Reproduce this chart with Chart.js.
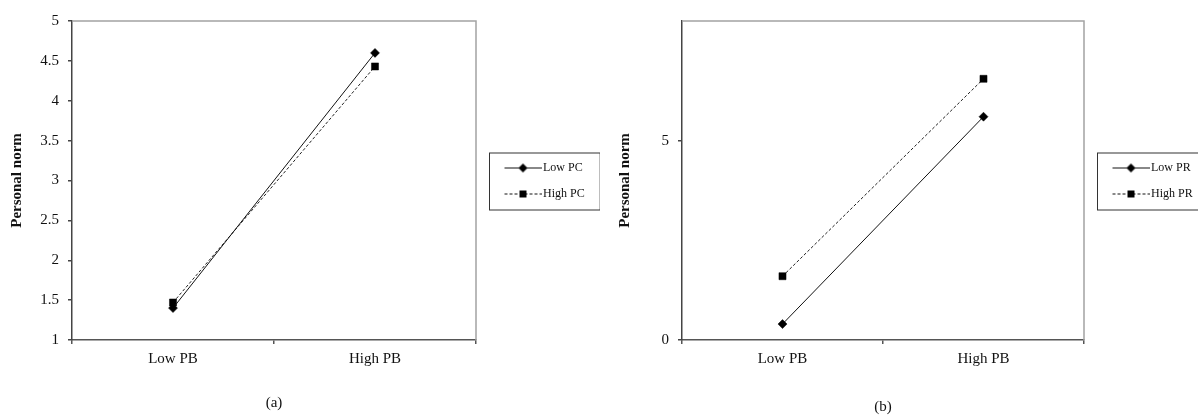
<!DOCTYPE html>
<html>
<head>
<meta charset="utf-8">
<script src="https://cdn.jsdelivr.net/npm/chart.js@4"></script>
<style>
  body { margin: 0; background: #fff; }
  #wrapA { position: absolute; left: 0; top: 0; }
  #wrapB { position: absolute; left: 600px; top: 0; }
</style>
</head>
<body>
<div id="wrapA"><canvas id="chartA" width="600" height="416"></canvas></div>
<div id="wrapB"><canvas id="chartB" width="598" height="416"></canvas></div>
<script>
// データ
const categories = ['Low PB', 'High PB'];
const lowPC = [1.40, 4.60];
const highPC = [1.47, 4.43];
const lowPR = [0.40, 5.60];
const highPR = [1.60, 6.55];

Chart.defaults.font.family = '"Liberation Serif", "Times New Roman", serif';
Chart.defaults.color = '#111';

// 凡例の記号（線＋マーカー）を小さいキャンバスに描く
function legendSymbol(dashed, marker) {
    const c = document.createElement('canvas');
    c.width = 56;
    c.height = 12;
    const g = c.getContext('2d');
    g.strokeStyle = '#111';
    g.lineWidth = 1;
    if (dashed) g.setLineDash([3, 2]);
    g.beginPath();
    g.moveTo(19, 6.5);
    g.lineTo(56, 6.5);
    g.stroke();
    g.fillStyle = '#000';
    if (marker === 'diamond') {
        g.beginPath();
        g.moveTo(37.5, 2);
        g.lineTo(42, 6.5);
        g.lineTo(37.5, 11);
        g.lineTo(33, 6.5);
        g.closePath();
        g.fill();
    } else {
        g.fillRect(34, 3, 7, 7);
    }
    return c;
}
const symbols = [legendSymbol(false, 'diamond'), legendSymbol(true, 'square')];

// 凡例の幅を固定する
const legendWidth = {
    id: 'legendWidth',
    afterInit(chart, args, opts) {
        const legend = chart.legend;
        const fit = legend.fit.bind(legend);
        legend.fit = function () {
            fit();
            this.width = opts.width;
        };
    }
};

// プロットの枠と凡例の枠
const frames = {
    id: 'frames',
    afterDraw(chart) {
        const ctx = chart.ctx;
        const a = chart.chartArea;
        ctx.save();
        ctx.strokeStyle = '#a3a3a3';
        ctx.lineWidth = 1.5;
        ctx.beginPath();
        ctx.moveTo(a.left, a.top);
        ctx.lineTo(a.right, a.top);
        ctx.lineTo(a.right, a.bottom);
        ctx.stroke();

        const boxes = chart.legend.legendHitBoxes;
        if (boxes && boxes.length) {
            const left = boxes[0].left - 1;
            const top = boxes[0].top - 9;
            const last = boxes[boxes.length - 1];
            const right = Math.max(...boxes.map(b => b.left + b.width)) + 15;
            const bottom = last.top + last.height + 10;
            ctx.strokeStyle = '#333';
            ctx.lineWidth = 1;
            ctx.strokeRect(left + 0.5, top + 0.5, right - left, bottom - top);
        }
        ctx.restore();
    }
};

function makeChart(id, series, names, yOpts, cfg) {
    const ctx = document.getElementById(id).getContext('2d');
    return new Chart(ctx, {
        type: 'line',
        data: {
            labels: categories,
            datasets: [{
                label: names[0],
                data: series[0],
                borderColor: '#111',
                borderWidth: 1,
                pointStyle: 'rectRot',
                pointRadius: 4.5,
                pointBackgroundColor: '#000',
                pointBorderColor: '#000',
                pointBorderWidth: 0.5,
                tension: 0
            }, {
                label: names[1],
                data: series[1],
                borderColor: '#222',
                borderWidth: 1,
                borderDash: [3, 2],
                pointStyle: 'rect',
                pointRadius: 5,
                pointBackgroundColor: '#000',
                pointBorderColor: '#000',
                pointBorderWidth: 0.5,
                tension: 0
            }]
        },
        plugins: [legendWidth, frames],
        options: {
            responsive: false,
            animation: false,
            layout: { padding: { top: 21, right: 0, bottom: 0, left: 0 } },
            scales: {
                x: {
                    type: 'category',
                    offset: true,
                    grid: { offset: true, drawOnChartArea: false, tickLength: 4, color: '#555', lineWidth: 1.5 },
                    border: { color: '#555', width: 1.5 },
                    ticks: { padding: 6, font: { size: 15 }, color: '#111' },
                    title: {
                        display: true,
                        text: cfg.caption,
                        font: { size: 15 },
                        color: '#111',
                        padding: { top: 0, bottom: cfg.captionPad }
                    },
                    afterFit: function (scale) { scale.height = 76; }
                },
                y: {
                    min: yOpts.min,
                    max: yOpts.max,
                    grid: { drawOnChartArea: false, tickLength: 4, color: '#444', lineWidth: 1.5 },
                    border: { color: '#444', width: 1.5 },
                    ticks: {
                        stepSize: yOpts.step,
                        includeBounds: false,
                        padding: 9,
                        font: { size: 15 },
                        color: '#111',
                        callback: value => String(Math.round(value * 100) / 100)
                    },
                    title: {
                        display: true,
                        text: 'Personal norm',
                        font: { size: 15, weight: 'bold' },
                        color: '#111',
                        padding: { top: cfg.titlePad, bottom: 0 }
                    },
                    afterFit: function (scale) { scale.width = cfg.axisWidth; }
                }
            },
            plugins: {
                legendWidth: { width: cfg.legendWidth },
                legend: {
                    position: 'right',
                    align: 'center',
                    fullSize: false,
                    labels: {
                        usePointStyle: true,
                        pointStyleWidth: 47,
                        padding: 14,
                        color: '#111',
                        font: { size: 12 },
                        generateLabels: function (chart) {
                            const items = Chart.defaults.plugins.legend.labels.generateLabels(chart);
                            items.forEach((item, i) => { item.pointStyle = symbols[i]; });
                            return items;
                        }
                    }
                },
                tooltip: { enabled: false }
            }
        }
    });
}

makeChart('chartA', [lowPC, highPC], ['Low PC', 'High PC'],
    { min: 1, max: 5, step: 0.5 },
    { caption: '(a)', captionPad: 4, titlePad: 8, axisWidth: 72, legendWidth: 124 });

makeChart('chartB', [lowPR, highPR], ['Low PR', 'High PR'],
    { min: 0, max: 8, step: 5 },
    { caption: '(b)', captionPad: 0, titlePad: 16, axisWidth: 82, legendWidth: 114 });
</script>
</body>
</html>
